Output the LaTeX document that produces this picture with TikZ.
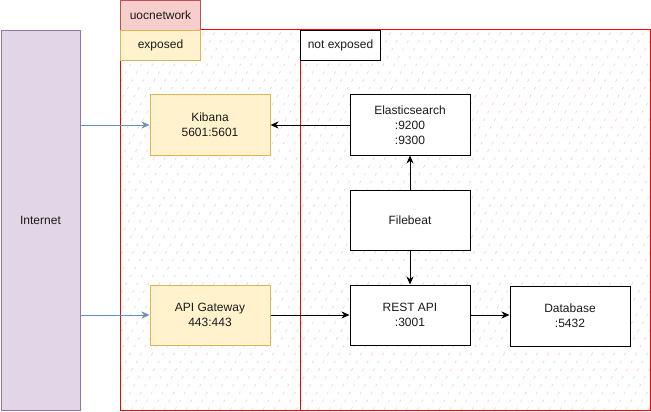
\documentclass[tikz,border=0pt]{standalone}
\usepackage{fontspec}
\setmainfont{Liberation Sans}
\usetikzlibrary{arrows.meta,positioning}
\definecolor{purplefill}{HTML}{E1D5E7}
\definecolor{purpleline}{HTML}{9673A6}
\definecolor{redfill}{HTML}{F8CECC}
\definecolor{redline}{HTML}{B85450}
\definecolor{yelfill}{HTML}{FFF2CC}
\definecolor{yelline}{HTML}{D6B656}
\definecolor{blueline}{HTML}{6C8EBF}
\definecolor{hatchcol}{HTML}{F9C0C0}
\definecolor{txt}{HTML}{1A1A1A}
\begin{document}
\begin{tikzpicture}[x=1pt,y=-1pt,
  font=\fontsize{12}{15}\selectfont,
  box/.style={draw=black, fill=white, line width=1pt, minimum width=120pt, minimum height=60pt, inner sep=0pt, align=center, text=txt},
  ybox/.style={box, draw=yelline, fill=yelfill},
  tag/.style={draw, line width=1pt, minimum width=80pt, minimum height=30pt, inner sep=0pt, anchor=north west, text=txt},
  conn/.style={line width=1pt, -{Stealth[length=8pt,width=7pt,inset=2.5pt]}},
  bconn/.style={conn, draw=blueline, fill=blueline}
]
\useasboundingbox (0,0) rectangle (651,412);
% hatch
\begin{scope}
  \clip (120,30) rectangle (650,410);
  \foreach \i in {-25,...,50} {
    \draw[hatchcol, line width=0.5pt, dash pattern=on 3pt off 6pt] (120+\i*11,410) -- ++(240,-420);
  }
\end{scope}
\draw[red, line width=1pt] (120,30) rectangle (650,410);
\draw[red, line width=1pt] (300,30) -- (300,410);
% internet
\node[draw=purpleline, fill=purplefill, line width=1pt, minimum width=79pt, minimum height=380pt, inner sep=0pt, anchor=north west, text=txt] (internet) at (0.5,30) {Internet};
% tags
\node[tag, draw=redline, fill=redfill] (uoc) at (120,0) {uocnetwork};
\node[tag, draw=yelline, fill=yelfill] (exposed) at (120,30) {exposed};
\node[tag, draw=black, fill=white] (notexp) at (300,30) {not exposed};
% boxes
\node[ybox] (kibana) at (210,125) {Kibana\\5601:5601};
\node[ybox] (gateway) at (210,315) {API Gateway\\443:443};
\node[box] (elastic) at (410,125) {Elasticsearch\\:9200\\:9300};
\node[box] (filebeat) at (410,220) {Filebeat};
\node[box] (rest) at (410,315) {REST API\\:3001};
\node[box] (db) at (570,316) {Database\\:5432};
% connectors
\draw[bconn] (internet.east |- kibana) -- (kibana.west);
\draw[bconn] (internet.east |- gateway) -- (gateway.west);
\draw[conn] (elastic.west) -- (kibana.east);
\draw[conn] (filebeat.north) -- (elastic.south);
\draw[conn] (filebeat.south) -- (rest.north);
\draw[conn] (gateway.east) -- (rest.west);
\draw[conn] (rest.east) -- (db.west |- rest.east);
\end{tikzpicture}
\end{document}
